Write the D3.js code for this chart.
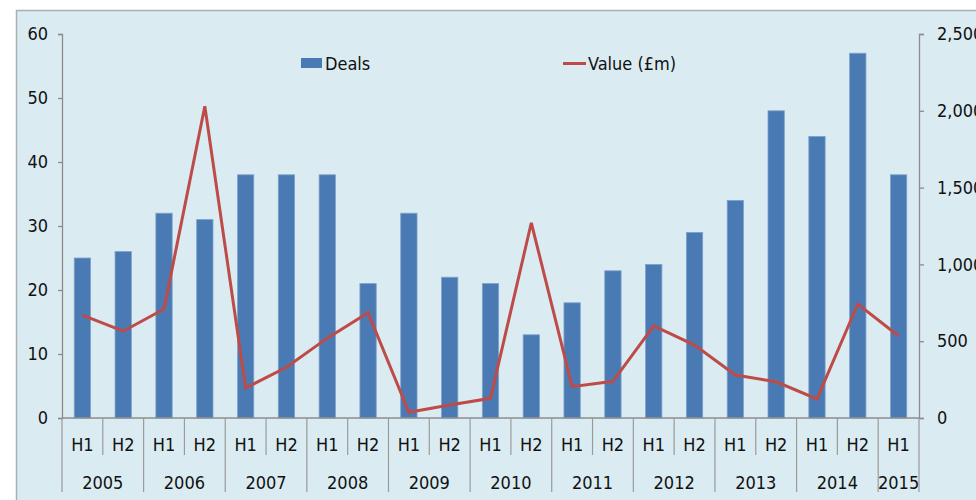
<!DOCTYPE html>
<html>
<head>
<meta charset="utf-8">
<script src="https://cdn.jsdelivr.net/npm/d3@7"></script>
<style>
  body { margin: 0; background: #fff; }
  text { font-family: "Liberation Sans Narrow", "DejaVu Sans Condensed", "Arial Narrow", sans-serif; fill: #111; }
</style>
</head>
<body>
<div id="canvas"></div>
<script>
"use strict"

/* Data */
let years = ["2005", "2006", "2007", "2008", "2009", "2010", "2011", "2012", "2013", "2014", "2015"];
let halves = ["H1", "H2", "H1", "H2", "H1", "H2", "H1", "H2", "H1", "H2", "H1", "H2",
              "H1", "H2", "H1", "H2", "H1", "H2", "H1", "H2", "H1"];
let deals = [25, 26, 32, 31, 38, 38, 38, 21, 32, 22, 21, 13, 18, 23, 24, 29, 34, 48, 44, 57, 38];
let values = [670, 565, 710, 2030, 195, 330, 520, 686, 37, 85, 128, 1271, 204, 239, 600, 475, 280, 236, 124, 742, 534];
let leftTicks = [0, 10, 20, 30, 40, 50, 60];
let rightTicks = [0, 500, 1000, 1500, 2000, 2500];

/* Drawing config */
let svgWidth = 976;
let svgHeight = 500;
let plotLeft = 62, plotRight = 919, plotTop = 34, plotBottom = 418;
let barColor = "#4a7ab4";
let lineColor = "#be4b48";
let axisColor = "#8c8c8c";

let svg = d3.select("#canvas")
    .append("svg")
    .attr("width", svgWidth)
    .attr("height", svgHeight);

/* panel background with border on top/left */
svg.append("rect")
    .attr("x", 16.5)
    .attr("y", 10.5)
    .attr("width", svgWidth)
    .attr("height", svgHeight)
    .attr("fill", "#daecf2")
    .attr("stroke", "#a9b0b3")
    .attr("stroke-width", 1.5);

// category index used as band key
let idx = d3.range(halves.length);

let xScale = d3.scaleBand()
    .domain(idx)
    .range([plotLeft, plotRight])
    .paddingInner(0.6)
    .paddingOuter(0.3);

let step = xScale.step();
let slot = i => plotLeft + i * (plotRight - plotLeft) / halves.length;

let yLeft = d3.scaleLinear().domain([0, 60]).range([plotBottom, plotTop]);
let yRight = d3.scaleLinear().domain([0, 2500]).range([plotBottom, plotTop]);

/* bars */
svg.selectAll("rect.bar")
    .data(deals)
    .join("rect")
    .attr("class", "bar")
    .attr("x", (d, i) => xScale(i))
    .attr("y", d => yLeft(d))
    .attr("width", xScale.bandwidth())
    .attr("height", d => plotBottom - yLeft(d))
    .attr("fill", barColor)
    .attr("stroke", "#7fa2cc")
    .attr("stroke-width", 0.8);

/* value line */
let line = d3.line()
    .x((d, i) => xScale(i) + xScale.bandwidth() / 2)
    .y(d => yRight(d));

svg.append("path")
    .datum(values)
    .attr("d", line)
    .attr("fill", "none")
    .attr("stroke", lineColor)
    .attr("stroke-width", 3)
    .attr("stroke-linejoin", "miter");

/* left axis */
let leftAxis = svg.append("g")
    .attr("transform", "translate(" + plotLeft + ",0)")
    .call(d3.axisLeft(yLeft).tickValues(leftTicks).tickSize(4).tickPadding(10));

/* right axis */
let rightAxis = svg.append("g")
    .attr("transform", "translate(" + plotRight + ",0)")
    .call(d3.axisRight(yRight).tickValues(rightTicks).tickSize(5).tickPadding(13)
        .tickFormat(d3.format(",")));

[leftAxis, rightAxis].forEach(function (g) {
    g.selectAll("path,line").attr("stroke", axisColor).attr("stroke-width", 1.3);
    g.selectAll("text").attr("font-size", 18).attr("font-family", null).attr("fill", "#111");
});

/* category axis: baseline, half labels, year labels */
svg.append("line")
    .attr("x1", plotLeft).attr("x2", plotRight)
    .attr("y1", plotBottom).attr("y2", plotBottom)
    .attr("stroke", axisColor).attr("stroke-width", 1.5);

// short separators between halves
svg.selectAll("line.hsep")
    .data(d3.range(halves.length + 1))
    .join("line")
    .attr("class", "hsep")
    .attr("x1", d => slot(d)).attr("x2", d => slot(d))
    .attr("y1", plotBottom).attr("y2", 455)
    .attr("stroke", "#9a9a9a").attr("stroke-width", 1.2);

svg.selectAll("text.half")
    .data(halves)
    .join("text")
    .attr("class", "half")
    .attr("x", (d, i) => xScale(i) + xScale.bandwidth() / 2)
    .attr("y", 451)
    .attr("text-anchor", "middle")
    .attr("font-size", 18)
    .text(d => d);

// year separators (every 2 halves, last year has 1)
let yearEdges = years.map((y, i) => i * 2).concat([halves.length]);
svg.selectAll("line.ysep")
    .data(yearEdges)
    .join("line")
    .attr("class", "ysep")
    .attr("x1", d => slot(d)).attr("x2", d => slot(d))
    .attr("y1", 455).attr("y2", 492)
    .attr("stroke", "#9a9a9a").attr("stroke-width", 1.2);

svg.selectAll("text.year")
    .data(years)
    .join("text")
    .attr("class", "year")
    .attr("x", (d, i) => (slot(yearEdges[i]) + slot(yearEdges[i + 1])) / 2)
    .attr("y", 489)
    .attr("text-anchor", "middle")
    .attr("font-size", 18)
    .text(d => d);

/* legend */
svg.append("rect")
    .attr("x", 301).attr("y", 58)
    .attr("width", 21).attr("height", 10)
    .attr("fill", barColor);
svg.append("text")
    .attr("x", 325).attr("y", 70)
    .attr("font-size", 18)
    .text("Deals");

svg.append("line")
    .attr("x1", 563).attr("x2", 586)
    .attr("y1", 63.5).attr("y2", 63.5)
    .attr("stroke", lineColor).attr("stroke-width", 3);
svg.append("text")
    .attr("x", 588).attr("y", 70)
    .attr("font-size", 18)
    .text("Value (£m)");
</script>
</body>
</html>
